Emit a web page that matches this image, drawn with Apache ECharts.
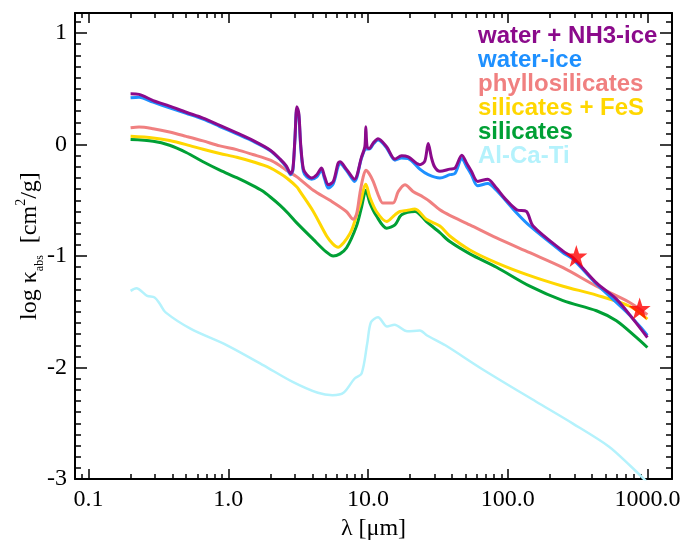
<!DOCTYPE html>
<html>
<head>
<meta charset="utf-8">
<script src="https://cdn.jsdelivr.net/npm/echarts@6/dist/echarts.min.js"></script>
<style>
  html, body { margin: 0; padding: 0; background: #fff; }
  #chart { width: 688px; height: 546px; }
</style>
</head>
<body>
<div id="chart"></div>
<script>
// wavelength [um], log kappa_abs [cm^2/g]
const waterNH3Ice = [
  [0.2, 0.455], [0.23, 0.45], [0.29, 0.395], [0.38, 0.345], [0.5, 0.29], [0.66, 0.238],
  [0.87, 0.172], [1.15, 0.104], [1.5, 0.038], [2.0, -0.05], [2.35, -0.13], [2.6, -0.19],
  [2.8, -0.26], [2.9, -0.22], [3.0, 0.05], [3.1, 0.34], [3.2, 0.28], [3.3, 0.0],
  [3.45, -0.22], [3.65, -0.27], [3.95, -0.30], [4.3, -0.27], [4.65, -0.21], [4.9, -0.29],
  [5.2, -0.36], [5.65, -0.33], [6.1, -0.17], [6.3, -0.155], [7.0, -0.22], [8.0, -0.31],
  [9.0, -0.11], [9.5, -0.02], [9.65, 0.16], [9.85, -0.02], [10.2, -0.035], [11.0, 0.02],
  [11.8, 0.053], [13.6, -0.02], [15.6, -0.13], [17.4, -0.10], [19.4, -0.11], [23.5, -0.18],
  [25.5, -0.15], [27.0, 0.01], [28.5, -0.12], [30, -0.2], [32.7, -0.24], [38.5, -0.22],
  [42, -0.21], [47, -0.095], [51, -0.17], [55, -0.24], [61, -0.33], [72, -0.31],
  [83, -0.39], [95, -0.48], [116, -0.585], [136, -0.60], [152, -0.73], [249, -0.955],
  [294, -1.015], [432, -1.24], [600, -1.386], [790, -1.565], [1000, -1.73]
];
const waterIce = [
  [0.2, 0.42], [0.23, 0.425], [0.29, 0.38], [0.38, 0.33], [0.5, 0.28], [0.66, 0.228],
  [0.87, 0.162], [1.15, 0.095], [1.5, 0.03], [2.0, -0.055], [2.35, -0.135], [2.6, -0.2],
  [2.8, -0.27], [2.9, -0.23], [3.0, 0.04], [3.1, 0.32], [3.2, 0.26], [3.3, -0.02],
  [3.45, -0.24], [3.65, -0.29], [3.95, -0.31], [4.3, -0.29], [4.65, -0.23], [4.9, -0.31],
  [5.2, -0.39], [5.65, -0.35], [6.1, -0.2], [6.3, -0.17], [7.0, -0.23], [8.0, -0.33],
  [9.0, -0.12], [9.7, -0.04], [10.2, -0.04], [11.0, 0.01], [11.8, 0.04], [13.6, -0.03],
  [15.6, -0.14], [17.4, -0.12], [19.4, -0.125], [23.5, -0.22], [27, -0.27], [32.7, -0.30],
  [38.5, -0.27], [42, -0.258], [47, -0.125], [51, -0.2], [55, -0.27], [61, -0.37],
  [72, -0.35], [83, -0.41], [116, -0.614], [144, -0.73], [249, -0.97], [294, -1.03],
  [432, -1.25], [747, -1.53], [1000, -1.71]
];
const phyllosilicates = [
  [0.2, 0.151], [0.23, 0.157], [0.29, 0.142], [0.38, 0.113], [0.5, 0.074], [0.66, 0.033],
  [0.87, -0.012], [1.15, -0.045], [1.5, -0.089], [2.0, -0.14], [2.35, -0.19], [2.6, -0.23],
  [3.1, -0.29], [4.06, -0.41], [5.34, -0.50], [7.0, -0.60], [7.85, -0.67], [8.3, -0.62],
  [8.75, -0.44], [9.2, -0.30], [9.66, -0.23], [10.2, -0.26], [10.9, -0.33], [12.0, -0.47],
  [12.8, -0.525], [15.1, -0.525], [16.5, -0.42], [18.4, -0.36], [21.0, -0.42], [24.8, -0.47],
  [27.7, -0.51], [32.7, -0.585], [38.5, -0.635], [53.6, -0.72], [83.2, -0.837], [144, -0.97],
  [249, -1.104], [432, -1.27], [747, -1.416], [1000, -1.525]
];
const silicatesFeS = [
  [0.2, 0.074], [0.29, 0.06], [0.38, 0.036], [0.5, 0.0], [0.66, -0.042], [0.87, -0.08],
  [1.15, -0.113], [1.5, -0.154], [2.0, -0.208], [2.35, -0.26], [2.62, -0.30], [3.1, -0.38],
  [3.26, -0.42], [4.06, -0.60], [5.06, -0.82], [5.6, -0.89], [6.12, -0.92], [6.7, -0.88],
  [7.42, -0.80], [7.84, -0.73], [8.75, -0.54], [9.66, -0.356], [10.3, -0.47], [11.5, -0.60],
  [13.6, -0.69], [15.6, -0.63], [16.9, -0.60], [19, -0.59], [21.7, -0.578], [26.2, -0.67],
  [32.7, -0.73], [38.5, -0.82], [53.6, -0.945], [83.2, -1.06], [144, -1.175], [249, -1.27],
  [432, -1.35], [747, -1.45], [1000, -1.565]
];
const silicates = [
  [0.2, 0.045], [0.29, 0.03], [0.38, -0.006], [0.5, -0.071], [0.66, -0.154], [0.87, -0.229],
  [1.15, -0.297], [1.5, -0.368], [1.75, -0.415], [2.0, -0.47], [2.35, -0.545], [2.7, -0.62],
  [3.08, -0.70], [4.06, -0.85], [5.0, -0.96], [5.64, -1.0], [6.3, -0.98], [7.03, -0.926],
  [8.28, -0.73], [9.0, -0.56], [9.66, -0.41], [10.3, -0.52], [11.5, -0.64], [13.6, -0.75],
  [15.6, -0.72], [17.4, -0.63], [21.7, -0.60], [26.2, -0.69], [32.7, -0.79], [38.5, -0.87],
  [53.6, -0.98], [83.2, -1.10], [144, -1.27], [249, -1.40], [432, -1.49], [600, -1.58],
  [834, -1.73], [1000, -1.82]
];
const alCaTi = [
  [0.2, -1.312], [0.22, -1.288], [0.263, -1.357], [0.297, -1.371], [0.325, -1.431],
  [0.356, -1.505], [0.54, -1.653], [0.98, -1.80], [1.79, -1.98], [2.89, -2.128],
  [4.38, -2.226], [5.58, -2.247], [6.68, -2.226], [8.0, -2.10], [9.0, -2.054],
  [9.87, -1.787], [10.5, -1.594], [11.8, -1.549], [13.7, -1.632], [15.5, -1.615],
  [19.1, -1.674], [23.5, -1.668], [26.5, -1.712], [35.8, -1.80], [65, -2.01],
  [160, -2.306], [291, -2.50], [529, -2.707], [760, -2.885], [1000, -3.03]
];
const stars = [[310, -1.0], [880, -1.47]];

const seriesNames = ['water + NH3-ice', 'water-ice', 'phyllosilicates', 'silicates + FeS', 'silicates', 'Al-Ca-Ti'];
const seriesColors = ['#8b0a8b', '#1e90ff', '#f08080', '#ffd700', '#00a035', '#b4f2fc'];

const xRange = [0.08, 1500];
const xMajorTicks = [0.1, 1, 10, 100, 1000];
const yRange = [-3, 1.18];
const yMajorTicks = [-3, -2, -1, 0, 1];

const xMinorTicks = [];
for (let d = -2; d <= 3; d++) {
  for (let k = 2; k <= 9; k++) {
    const v = k * Math.pow(10, d);
    if (v > xRange[0] && v < xRange[1]) xMinorTicks.push(v);
  }
}
const yMinorTicks = [];
for (let i = -29; i <= 11; i++) {
  if (i % 10 !== 0) yMinorTicks.push(i / 10);
}

const lg = (v) => Math.log10(v);
const toXY = (pts) => pts.map(([l, k]) => [lg(l), k]);

const serif = 'Liberation Serif';

function xAxisDef(position, ticks, len, main) {
  return {
    type: 'value',
    position,
    min: lg(xRange[0]),
    max: lg(xRange[1]),
    axisLine: { show: main, onZero: false, lineStyle: { color: '#000', width: 2 } },
    axisTick: { inside: true, length: len, customValues: ticks.map(lg), lineStyle: { color: '#000', width: 1.5 } },
    axisLabel: { show: false },
    splitLine: { show: false }
  };
}

function yAxisDef(position, ticks, len, main) {
  return {
    type: 'value',
    position,
    min: yRange[0],
    max: yRange[1],
    axisLine: { show: main, onZero: false, lineStyle: { color: '#000', width: 2 } },
    axisTick: { inside: true, length: len, customValues: ticks, lineStyle: { color: '#000', width: 1.5 } },
    axisLabel: { show: false },
    splitLine: { show: false }
  };
}

const xBottom = xAxisDef('bottom', xMajorTicks, 10, true);
xBottom.axisLabel = {
  show: true,
  customValues: xMajorTicks.map(lg),
  formatter: (v) => Math.pow(10, v).toFixed(1),
  fontFamily: serif,
  fontSize: 24,
  color: '#000',
  margin: 9
};
xBottom.name = 'λ [μm]';
xBottom.nameLocation = 'middle';
xBottom.nameGap = 31;
xBottom.nameTextStyle = { fontFamily: serif, fontSize: 24, color: '#000' };

const yLeft = yAxisDef('left', yMajorTicks, 12, true);
yLeft.axisLabel = {
  show: true,
  customValues: yMajorTicks,
  formatter: (v) => String(v),
  fontFamily: serif,
  fontSize: 24,
  color: '#000',
  margin: 8
};
yLeft.name = '{n|log κ}{sub|abs}{n|  [cm}{sup|2}{n|/g]}';
yLeft.nameLocation = 'middle';
yLeft.nameGap = 29;
yLeft.nameMoveOverlap = false;
yLeft.nameTextStyle = {
  fontFamily: serif,
  color: '#000',
  rich: {
    n: { fontFamily: serif, fontSize: 24, lineHeight: 32, verticalAlign: 'middle', color: '#000' },
    sub: { fontFamily: serif, fontSize: 12, lineHeight: 32, verticalAlign: 'bottom', color: '#000' },
    sup: { fontFamily: serif, fontSize: 14, lineHeight: 32, verticalAlign: 'top', color: '#000' }
  }
};

const curves = [alCaTi, silicates, silicatesFeS, phyllosilicates, waterIce, waterNH3Ice];
const curveOrder = [5, 4, 3, 2, 1, 0];

const series = curves.map((pts, i) => {
  const idx = curveOrder[i];
  return {
    name: seriesNames[idx],
    type: 'line',
    data: toXY(pts),
    showSymbol: false,
    symbol: 'none',
    smooth: 0.3,
    lineStyle: { color: seriesColors[idx], width: idx === 5 ? 2.5 : 3 },
    itemStyle: { color: seriesColors[idx] },
    z: 2 + i
  };
});
series.push({
  name: 'stars',
  type: 'scatter',
  data: toXY(stars),
  symbol: 'path://M50,0 L61.8,35.1 L98.1,35.1 L68.8,56.7 L79.4,91.2 L50,70 L20.6,91.2 L31.2,56.7 L1.9,35.1 L38.2,35.1 Z',
  symbolSize: 22,
  itemStyle: { color: '#ff0000' },
  z: 20
});

const chart = echarts.init(document.getElementById('chart'));
chart.setOption({
  animation: false,
  backgroundColor: '#fff',
  grid: { left: 75, right: 16, top: 13, bottom: 63 },
  legend: {
    orient: 'vertical',
    left: 472,
    top: 24,
    padding: 0,
    itemGap: 0,
    itemWidth: 0,
    itemHeight: 0,
    selectedMode: false,
    textStyle: { fontFamily: 'Liberation Sans', fontWeight: 'bold', fontSize: 24, lineHeight: 24 },
    data: seriesNames.map((n, i) => ({ name: n, textStyle: { color: seriesColors[i] } }))
  },
  xAxis: [
    xBottom,
    xAxisDef('bottom', xMinorTicks, 5, false),
    xAxisDef('top', xMajorTicks, 10, true),
    xAxisDef('top', xMinorTicks, 5, false)
  ],
  yAxis: [
    yLeft,
    yAxisDef('left', yMinorTicks, 6, false),
    yAxisDef('right', yMajorTicks, 12, true),
    yAxisDef('right', yMinorTicks, 6, false)
  ],
  series
});
</script>
</body>
</html>
